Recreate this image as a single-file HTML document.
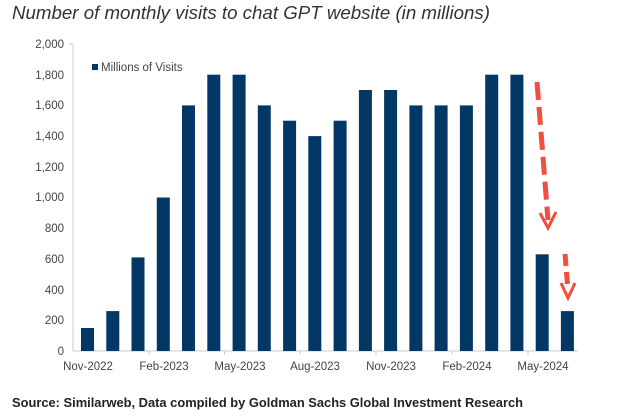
<!DOCTYPE html>
<html><head><meta charset="utf-8"><style>
html,body{margin:0;padding:0;background:#fff;}
svg{display:block;}
</style></head><body>
<svg width="620" height="420" viewBox="0 0 620 420" xmlns="http://www.w3.org/2000/svg" font-family="Liberation Sans, sans-serif">
<rect width="620" height="420" fill="#fff"/>
<text x="12" y="19" font-size="18" font-style="italic" fill="#333" textLength="478" lengthAdjust="spacingAndGlyphs">Number of monthly visits to chat GPT website (in millions)</text>
<g font-size="11.5" fill="#444" text-anchor="end">
<text x="64" y="48">2,000</text>
<text x="64" y="79">1,800</text>
<text x="64" y="109">1,600</text>
<text x="64" y="140">1,400</text>
<text x="64" y="171">1,200</text>
<text x="64" y="201">1,000</text>
<text x="64" y="232">800</text>
<text x="64" y="263">600</text>
<text x="64" y="294">400</text>
<text x="64" y="324">200</text>
<text x="64" y="355">0</text>
</g>
<line x1="73" y1="44" x2="73" y2="351" stroke="#ccc" stroke-width="1"/>
<line x1="69" y1="44" x2="73" y2="44" stroke="#ccc"/>
<line x1="73" y1="351" x2="578" y2="351" stroke="#ccc" stroke-width="1"/>
<g stroke="#ccc">
<line x1="149" y1="351" x2="149" y2="355"/>
<line x1="224.5" y1="351" x2="224.5" y2="355"/>
<line x1="300" y1="351" x2="300" y2="355"/>
<line x1="376" y1="351" x2="376" y2="355"/>
<line x1="452" y1="351" x2="452" y2="355"/>
<line x1="528" y1="351" x2="528" y2="355"/>
</g>
<g fill="#033766">
<rect x="81.0" y="328.0" width="13" height="23.0"/>
<rect x="106.3" y="311.1" width="13" height="39.9"/>
<rect x="131.5" y="257.4" width="13" height="93.6"/>
<rect x="156.8" y="197.5" width="13" height="153.5"/>
<rect x="182.0" y="105.4" width="13" height="245.6"/>
<rect x="207.3" y="74.7" width="13" height="276.3"/>
<rect x="232.6" y="74.7" width="13" height="276.3"/>
<rect x="257.8" y="105.4" width="13" height="245.6"/>
<rect x="283.1" y="120.7" width="13" height="230.3"/>
<rect x="308.3" y="136.1" width="13" height="214.9"/>
<rect x="333.6" y="120.7" width="13" height="230.3"/>
<rect x="358.9" y="90.0" width="13" height="261.0"/>
<rect x="384.1" y="90.0" width="13" height="261.0"/>
<rect x="409.4" y="105.4" width="13" height="245.6"/>
<rect x="434.6" y="105.4" width="13" height="245.6"/>
<rect x="459.9" y="105.4" width="13" height="245.6"/>
<rect x="485.2" y="74.7" width="13" height="276.3"/>
<rect x="510.4" y="74.7" width="13" height="276.3"/>
<rect x="535.7" y="254.3" width="13" height="96.7"/>
<rect x="560.9" y="311.1" width="13" height="39.9"/>
</g>
<rect x="92" y="64" width="6" height="6" fill="#033766"/>
<text x="101" y="71" font-size="11.5" fill="#444">Millions of Visits</text>
<g font-size="11.5" fill="#444" text-anchor="middle">
<text x="88" y="370">Nov-2022</text>
<text x="164" y="370">Feb-2023</text>
<text x="240" y="370">May-2023</text>
<text x="315" y="370">Aug-2023</text>
<text x="391" y="370">Nov-2023</text>
<text x="467" y="370">Feb-2024</text>
<text x="543" y="370">May-2024</text>
</g>
<g stroke="#f04e3e" stroke-width="5" fill="none">
<line x1="537" y1="82" x2="548" y2="220" stroke-dasharray="18,7"/>
<polyline points="540,213 548,228 556,212" stroke-width="3"/>
<line x1="565" y1="254" x2="568" y2="290" stroke-dasharray="12,6"/>
<polyline points="561,283 568,298 575,283" stroke-width="3"/>
</g>
<text x="12" y="407" font-size="12.5" font-weight="bold" fill="#222" textLength="511" lengthAdjust="spacingAndGlyphs">Source: Similarweb, Data compiled by Goldman Sachs Global Investment Research</text>
</svg>
</body></html>
